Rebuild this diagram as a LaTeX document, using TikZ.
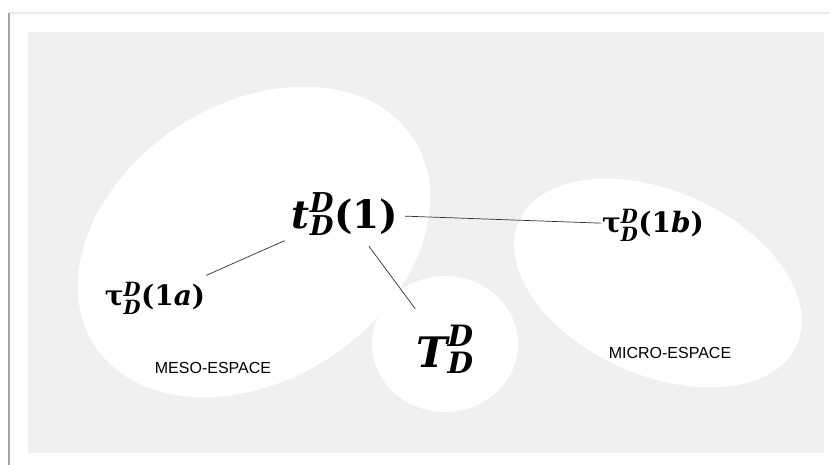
\documentclass[tikz,border=0pt]{standalone}
\usepackage{amsmath}
\usepackage{fontspec}
\newfontfamily\espacefont{Liberation Sans}
\newfontfamily\symbfont{DejaVu Serif}
\newcommand{\bi}[1]{\text{\symbfont\bfseries\itshape #1}}
\newcommand{\bup}[1]{\text{\symbfont\bfseries #1}}
\usepackage{tikz}

\begin{document}
\begin{tikzpicture}[x=1pt, y=-1pt,
  space/.style={fill=white},
  link/.style={draw=black!80, line width=0.7pt},
  espace/.style={font=\espacefont\fontsize{16}{19}\selectfont}]
\useasboundingbox (0,0) rectangle (830,465);
\fill[white] (0,0) rectangle (830,465);
% page edges
\draw[black!8, line width=1.5pt] (9,13) -- (830,13);
\draw[black!35, line width=1.5pt] (9,13) -- (9,465);
\fill[black!6] (28,32) rectangle (824,453);
% the three espaces
\fill[space, rotate around={33:(254,242)}] (254,242) ellipse [x radius=190, y radius=138];
\fill[space, rotate around={-24:(658,283)}] (658,283) ellipse [x radius=152, y radius=92];
\fill[space] (445,344) ellipse [x radius=73, y radius=68];

\node (t1) at (345,214) {\fontsize{39}{46}\selectfont $\bi{t}^{\bi{D}}_{\bi{D}}\bup{(1)}$};
\node (tau1a) at (155,298) {\fontsize{28}{33}\selectfont $\bup{τ}^{\bi{D}}_{\bi{D}}\bup{(1}\bi{a}\bup{)}$};
\node (tau1b) at (653,225) {\fontsize{28}{33}\selectfont $\bup{τ}^{\bi{D}}_{\bi{D}}\bup{(1}\bi{b}\bup{)}$};
\node (TD) at (445,349) {\fontsize{42}{48}\selectfont $\bi{T}^{\bi{D}}_{\bi{D}}$};
\node[espace] (meso) at (213,368) {MESO-ESPACE};
\node[espace] (micro) at (670,353) {MICRO-ESPACE};

\draw[link, shorten <=66pt, shorten >=56pt] (t1.center) -- (tau1a.center);
\draw[link, shorten <=60pt, shorten >=52pt] (t1.center) -- (tau1b.center);
\draw[link, shorten <=40pt, shorten >=50pt] (t1.center) -- (TD.center);
\end{tikzpicture}
\end{document}
